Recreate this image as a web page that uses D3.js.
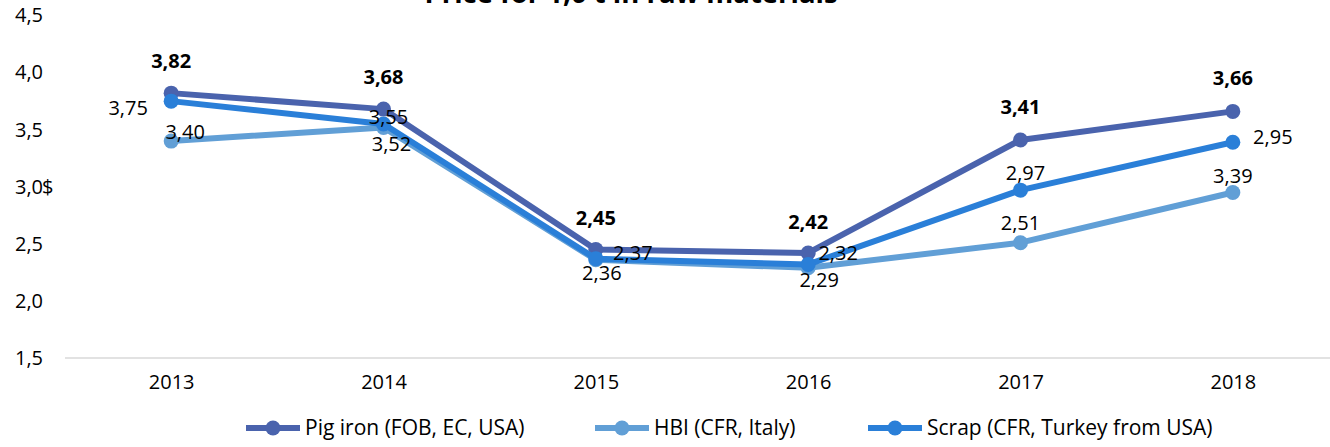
<!DOCTYPE html>
<html>
<head>
<meta charset="utf-8">
<script src="https://cdn.jsdelivr.net/npm/d3@7"></script>
<style>
  html, body { margin: 0; padding: 0; background: #fff; }
  svg { display: block; }
  text { font-family: "Open Sans", "DejaVu Sans", sans-serif; fill: #000; }
</style>
</head>
<body>
<svg id="chart" width="1330" height="447"></svg>
<script>
// ---- data ----
const title = "Price for 1,0 t in raw materials";
const years = ["2013", "2014", "2015", "2016", "2017", "2018"];
const seriesNames = ["Pig iron (FOB, EC, USA)", "HBI (CFR, Italy)", "Scrap (CFR, Turkey from USA)"];
const pigIron = [3.82, 3.68, 2.45, 2.42, 3.41, 3.66];
const hbi = [3.40, 3.52, 2.36, 2.29, 2.51, 2.95];
const scrap = [3.75, 3.55, 2.37, 2.32, 2.97, 3.39];
// data labels as printed in the source picture
const pigIronLabels = ["3,82", "3,68", "2,45", "2,42", "3,41", "3,66"];
const hbiLabels = ["3,40", "3,52", "2,36", "2,29", "2,51", "3,39"];
const scrapLabels = ["3,75", "3,55", "2,37", "2,32", "2,97", "2,95"];
const yTicks = [1.5, 2.0, 2.5, 3.0, 3.5, 4.0, 4.5];
const yTickLabels = ["1,5", "2,0", "2,5", "3,0", "3,5", "4,0", "4,5"];
const yUnit = "$";

// ---- style / layout (kept separate from data) ----
const colors = ["#4A63AD", "#619FD6", "#2A7FD8"];
const labelOffsets = [
  [[0,-32],[0,-32],[0,-32],[0,-31],[0,-33],[0,-33]],
  [[14,-9],[8,17],[6,13],[11,12],[0,-20],[0,-16]],
  [[-43,7],[5,-7],[37,-6],[30,-11],[5,-17],[40,-5]]
];
const labelBold = [true, false, false];

const svg = d3.select("#chart");
const W = 1330, H = 447;
const mLeft = 65, mRight = 1339, mTop = 15.5, mBottom = 358;

const x = d3.scalePoint().domain(years).range([mLeft, mRight]).padding(0.5);
const y = d3.scaleLinear().domain([1.5, 4.5]).range([mBottom, mTop]);

// title (partly clipped at top as in source)
svg.append("text")
  .attr("x", 631).attr("y", 3)
  .attr("text-anchor", "middle")
  .style("font-size", "27.5px").style("font-weight", "bold")
  .text(title);

// baseline axis
svg.append("line")
  .attr("x1", mLeft).attr("x2", W)
  .attr("y1", y(1.5)).attr("y2", y(1.5))
  .attr("stroke", "#d9d9d9").attr("stroke-width", 1.5);

// y tick labels
const yAxis = d3.axisLeft(y).tickValues(yTicks)
  .tickFormat((d, i) => yTickLabels[i]).tickSize(0).tickPadding(0);
const yg = svg.append("g").attr("transform", "translate(43,0)").call(yAxis);
yg.select(".domain").remove();
yg.selectAll("text").style("font-size", "20px").style("font-family", "Open Sans, sans-serif").attr("fill", "#000");
// unit symbol next to 3,0
svg.append("text")
  .attr("x", 42).attr("y", y(3.0)).attr("dy", "0.35em")
  .style("font-size", "20px")
  .text(yUnit);

// x tick labels
const xAxis = d3.axisBottom(x).tickSize(0).tickPadding(0);
const xg = svg.append("g").attr("transform", `translate(0,${y(1.5) + 25})`).call(xAxis);
xg.select(".domain").remove();
xg.selectAll("text").style("font-size", "20px").style("font-family", "Open Sans, sans-serif").attr("fill", "#000").attr("dy", "0.32em");

// series
const allSeries = [pigIron, hbi, scrap];
const allLabels = [pigIronLabels, hbiLabels, scrapLabels];
const line = d3.line().x((d, i) => x(years[i])).y(d => y(d));

allSeries.forEach((vals, s) => {
  const g = svg.append("g");
  g.append("path").datum(vals)
    .attr("d", line)
    .attr("fill", "none")
    .attr("stroke", colors[s])
    .attr("stroke-width", 6)
    .attr("stroke-linejoin", "round");
  g.selectAll("circle").data(vals).join("circle")
    .attr("cx", (d, i) => x(years[i]))
    .attr("cy", d => y(d))
    .attr("r", 7.5)
    .attr("fill", colors[s]);
});

// data labels drawn on top
allSeries.forEach((vals, s) => {
  svg.append("g").selectAll("text").data(vals).join("text")
    .attr("x", (d, i) => x(years[i]) + labelOffsets[s][i][0])
    .attr("y", (d, i) => y(d) + labelOffsets[s][i][1])
    .attr("dy", "0.35em")
    .attr("text-anchor", "middle")
    .style("font-size", "20px")
    .style("font-weight", labelBold[s] ? "bold" : "normal")
    .text((d, i) => allLabels[s][i]);
});

// legend
const legendX = [246, 595, 868];
const legendY = 428;
seriesNames.forEach((name, s) => {
  const g = svg.append("g").attr("transform", `translate(${legendX[s]},${legendY})`);
  g.append("line").attr("x1", 0).attr("x2", 54).attr("y1", 0).attr("y2", 0)
    .attr("stroke", colors[s]).attr("stroke-width", 6);
  g.append("circle").attr("cx", 27).attr("cy", 0).attr("r", 7.5).attr("fill", colors[s]);
  g.append("text").attr("x", 59).attr("y", 0).attr("dy", "0.35em")
    .style("font-size", "21px").text(name);
});
</script>
</body>
</html>
